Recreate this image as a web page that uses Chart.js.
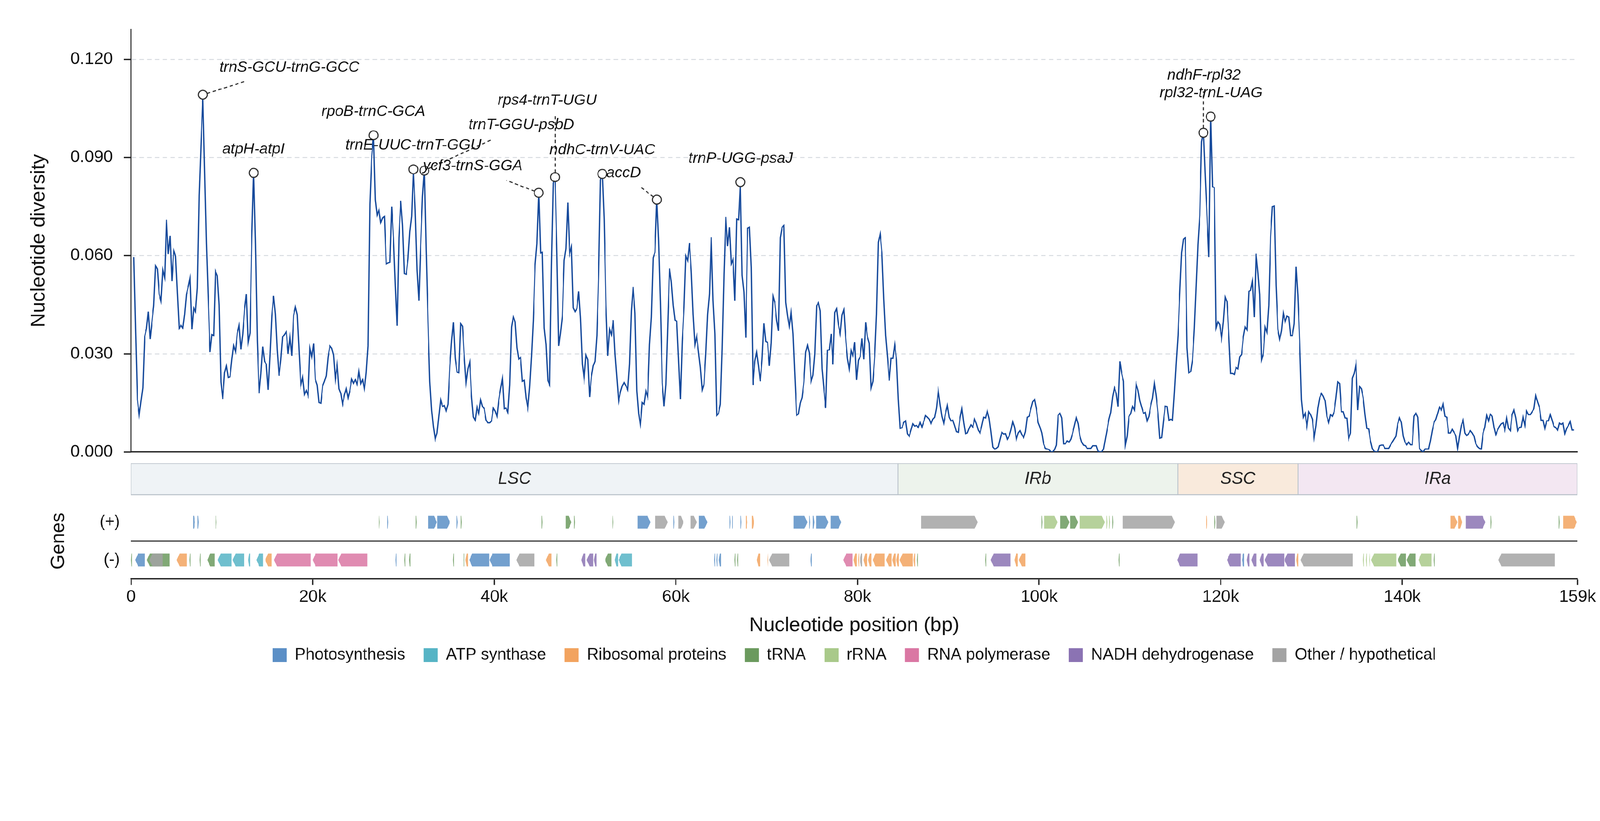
<!DOCTYPE html>
<html>
<head>
<meta charset="utf-8">
<script src="https://cdn.jsdelivr.net/npm/chart.js@4.4.1/dist/chart.umd.min.js"></script>
<style>
  html, body { margin: 0; padding: 0; background: #fff; overflow: hidden; }
  #wrap { position: relative; width: 4322px; height: 2102px; transform-origin: 0 0; }
  #wrap canvas { position: absolute; left: 0; top: 0; }
</style>
</head>
<body>
<div id="wrap">
  <canvas id="diversityChart" width="4322" height="2102"></canvas>
  <canvas id="regionChart" width="4322" height="2102"></canvas>
  <canvas id="geneChart" width="4322" height="2102"></canvas>
</div>
<script>
Chart.defaults.font.family = "'Liberation Sans', Arial, sans-serif";
Chart.defaults.color = '#111';

// fit the 4322x2102 figure into whatever viewport we get
const fit = Math.min(window.innerWidth / 4322, window.innerHeight / 2102);
if (fit > 0 && Math.abs(fit - 1) > 0.001) {
  document.getElementById('wrap').style.transform = 'scale(' + fit + ')';
}

// ---- data ----
const genomeLength = 159290;
const windowStep = 200;

// sliding-window Pi (three runs of consecutive windows)
const part1Start = 300;
const diversityPart1 = [
  0.0596,0.0370,0.0160,0.0114,0.0156,0.0196,0.0353,0.0377,0.0429,0.0345,
  0.0398,0.0448,0.0569,0.0559,0.0482,0.0461,0.0556,0.0533,0.0710,0.0605,
  0.0661,0.0522,0.0617,0.0599,0.0487,0.0378,0.0387,0.0379,0.0421,0.0482,
  0.0505,0.0531,0.0375,0.0440,0.0429,0.0501,0.0785,0.0940,0.1092,0.0860,
  0.0636,0.0468,0.0305,0.0359,0.0356,0.0552,0.0538,0.0449,0.0214,0.0162,
  0.0242,0.0263,0.0228,0.0230,0.0282,0.0325,0.0307,0.0363,0.0387,0.0314,
  0.0361,0.0435,0.0482,0.0336,0.0364,0.0655,0.0853,0.0636,0.0342,0.0179,
  0.0240,0.0322,0.0277,0.0268,0.0190,0.0296,0.0417,0.0477,0.0421,0.0310,
  0.0233,0.0282,0.0352,0.0359,0.0368,0.0300,0.0350,0.0294,0.0417,0.0443,
  0.0420,0.0310,0.0204,0.0228,0.0176,0.0188,0.0172,0.0317,0.0291,0.0331,
  0.0221,0.0205,0.0151,0.0149,0.0202,0.0216,0.0233,0.0291,0.0324,0.0317,
  0.0296,0.0223,0.0266,0.0193,0.0179,0.0146,0.0174,0.0193,0.0165,0.0188,
  0.0223,0.0210,0.0221,0.0205,0.0246,0.0209,0.0221,0.0191,0.0242,0.0324,
  0.0757,0.0902,0.0968,0.0771,0.0724,0.0740,0.0701,0.0715,0.0720,0.0575,
  0.0578,0.0580,0.0750,0.0655,0.0515,0.0386,0.0655,0.0768,0.0692,0.0545,
  0.0543,0.0589,0.0673,0.0720,0.0864,0.0738,0.0557,0.0463,0.0636,0.0780,
  0.0860,0.0617,0.0403,0.0216,0.0128,0.0076,0.0039,0.0058,0.0109,0.0159,
  0.0139,0.0142,0.0126,0.0146,0.0258,0.0338,0.0396,0.0286,0.0244,0.0242,
  0.0392,0.0384,0.0291,0.0212,0.0254,0.0275,0.0170,0.0107,0.0097,0.0137,
  0.0118,0.0159,0.0139,0.0132,0.0098,0.0089,0.0089,0.0095,0.0134,0.0125,
  0.0109,0.0160,0.0193,0.0224,0.0132,0.0134,0.0121,0.0205,0.0382,0.0414,
  0.0398,0.0319,0.0284,0.0289,0.0216,0.0219,0.0165,0.0134,0.0198,0.0291,
  0.0403,0.0571
];
const part2Start = 44700;
const diversityPart2 = [
  0.0636,0.0792,0.0608,0.0610,0.0379,0.0328,0.0218,0.0205,0.0571,0.0822,
  0.0840,0.0608,0.0324,0.0366,0.0415,0.0585,0.0622,0.0762,0.0606,0.0627,
  0.0440,0.0429,0.0438,0.0491,0.0407,0.0268,0.0224,0.0296,0.0282,0.0168,
  0.0230,0.0263,0.0277,0.0356,0.0543,0.0832,0.0850,0.0710,0.0449,0.0294,
  0.0375,0.0358,0.0403,0.0300,0.0228,0.0156,0.0184,0.0202,0.0212,0.0202,
  0.0190,0.0268,0.0431,0.0504,0.0424,0.0188,0.0118,0.0081,0.0151,0.0146,
  0.0186,0.0168,0.0328,0.0412,0.0594,0.0610,0.0771,0.0645,0.0449,0.0212,
  0.0140,0.0207,0.0384,0.0561,0.0519,0.0449,0.0403,0.0400,0.0282,0.0162,
  0.0338,0.0440,0.0599,0.0585,0.0639,0.0552,0.0421,0.0328,0.0354,0.0305,
  0.0258,0.0190,0.0207,0.0300,0.0421,0.0482,0.0656,0.0463,0.0361,0.0112,
  0.0118,0.0146,0.0319,0.0543,0.0718,0.0629,0.0687,0.0575,0.0589,0.0462,
  0.0712,0.0710,0.0825,0.0540,0.0489,0.0349,0.0684,0.0687,0.0563,0.0205,
  0.0277,0.0305,0.0263,0.0216,0.0284,0.0393,0.0338,0.0335,0.0263,0.0333,
  0.0476,0.0456,0.0403,0.0370,0.0655,0.0687,0.0692,0.0457,0.0415,0.0381,
  0.0426,0.0361,0.0235,0.0112,0.0116,0.0149,0.0167,0.0214,0.0305,0.0326,
  0.0302,0.0216,0.0235,0.0300,0.0447,0.0456,0.0431,0.0255,0.0193,0.0134,
  0.0311,0.0312,0.0361,0.0268,0.0426,0.0438,0.0389,0.0361,0.0419,0.0435,
  0.0349,0.0286,0.0254,0.0310,0.0293,0.0336,0.0220,0.0280,0.0291,0.0347,
  0.0283,0.0396,0.0352,0.0333,0.0196,0.0216,0.0291,0.0421,0.0641,0.0666,
  0.0608,0.0468,0.0356,0.0291,0.0218,0.0286,0.0286,0.0328,0.0282,0.0160,
  0.0072,0.0074,0.0090,0.0095,0.0056,0.0048,0.0067,0.0086,0.0079,0.0081,
  0.0075,0.0090,0.0076,0.0093,0.0111,0.0106,0.0100,0.0086,0.0100,0.0106,
  0.0134,0.0186,0.0146,0.0109,0.0088,0.0118,0.0142,0.0106,0.0095,0.0097,
  0.0081,0.0062,0.0060,0.0104,0.0132,0.0090,0.0056,0.0058,0.0072,0.0083,
  0.0076,0.0100,0.0086,0.0067,0.0058,0.0081,0.0106,0.0104,0.0125,0.0103,
  0.0062,0.0015,0.0009,0.0011,0.0016,0.0039,0.0060,0.0055,0.0056,0.0039,
  0.0048,0.0067,0.0092,0.0075,0.0039,0.0058,0.0065,0.0053,0.0044,0.0062,
  0.0106,0.0109,0.0132,0.0153,0.0160,0.0132,0.0090,0.0076,0.0058,0.0025,
  0.0011,0.0009,0.0007,0.0000,0.0000
];
const part3Start = 101700;
const diversityPart3 = [
  0.0007,0.0021,0.0112,0.0118,0.0104,0.0025,0.0025,0.0034,0.0030,0.0039,
  0.0058,0.0081,0.0104,0.0086,0.0048,0.0030,0.0021,0.0019,0.0011,0.0011,
  0.0011,0.0019,0.0019,0.0019,0.0002,0.0000,0.0000,0.0009,0.0039,0.0069,
  0.0100,0.0121,0.0168,0.0196,0.0179,0.0139,0.0277,0.0240,0.0216,0.0021,
  0.0048,0.0109,0.0117,0.0139,0.0128,0.0207,0.0188,0.0156,0.0137,0.0118,
  0.0121,0.0095,0.0109,0.0142,0.0165,0.0209,0.0170,0.0118,0.0042,0.0044,
  0.0095,0.0140,0.0139,0.0097,0.0100,0.0097,0.0179,0.0272,0.0356,0.0487,
  0.0608,0.0650,0.0655,0.0319,0.0242,0.0246,0.0282,0.0375,0.0505,0.0636,
  0.0724,0.0948,0.0976,0.0841,0.0720,0.0596,0.1025,0.0811,0.0808,0.0379,
  0.0398,0.0389,0.0347,0.0398,0.0473,0.0459,0.0356,0.0240,0.0240,0.0237,
  0.0258,0.0254,0.0291,0.0298,0.0352,0.0382,0.0373,0.0491,0.0494,0.0522,
  0.0412,0.0606,0.0552,0.0482,0.0282,0.0300,0.0382,0.0366,0.0449,0.0659,
  0.0750,0.0752,0.0510,0.0375,0.0345,0.0370,0.0424,0.0398,0.0415,0.0412,
  0.0356,0.0356,0.0392,0.0566,0.0477,0.0339,0.0160,0.0106,0.0118,0.0078,
  0.0123,0.0114,0.0100,0.0044,0.0081,0.0134,0.0165,0.0179,0.0170,0.0156,
  0.0109,0.0090,0.0114,0.0109,0.0123,0.0165,0.0214,0.0209,0.0123,0.0123,
  0.0104,0.0103,0.0041,0.0058,0.0226,0.0240,0.0268,0.0128,0.0200,0.0193,
  0.0165,0.0114,0.0072,0.0070,0.0034,0.0011,0.0002,0.0000,0.0000,0.0019,
  0.0021,0.0021,0.0011,0.0011,0.0011,0.0021,0.0030,0.0039,0.0048,0.0086,
  0.0104,0.0090,0.0048,0.0030,0.0022,0.0030,0.0022,0.0022,0.0109,0.0118,
  0.0106,0.0011,0.0004,0.0000,0.0009,0.0009,0.0009,0.0034,0.0065,0.0090,
  0.0100,0.0118,0.0137,0.0128,0.0146,0.0109,0.0106,0.0058,0.0058,0.0069,
  0.0060,0.0050,0.0011,0.0048,0.0081,0.0097,0.0058,0.0050,0.0056,0.0065,
  0.0058,0.0048,0.0025,0.0016,0.0011,0.0009,0.0058,0.0076,0.0112,0.0095,
  0.0116,0.0109,0.0076,0.0053,0.0067,0.0078,0.0086,0.0089,0.0067,0.0103,
  0.0072,0.0065,0.0114,0.0128,0.0104,0.0065,0.0075,0.0076,0.0106,0.0081,
  0.0125,0.0114,0.0114,0.0123,0.0132,0.0172,0.0153,0.0137,0.0097,0.0097,
  0.0072,0.0095,0.0095,0.0114,0.0097,0.0078,0.0075,0.0067,0.0088,0.0084,
  0.0088,0.0056,0.0072,0.0081,0.0093,0.0067,0.0067
];

const yTicks = [0, 0.03, 0.06, 0.09, 0.12];
const yMax = 0.1291;
const xTicks = [0, 20000, 40000, 60000, 80000, 100000, 120000, 140000, genomeLength];

// labelled peaks: window index into the joined series
const peakNames = ['trnS-GCU-trnG-GCC', 'atpH-atpI', 'rpoB-trnC-GCA', 'trnE-UUC-trnT-GGU',
  'trnT-GGU-psbD', 'ycf3-trnS-GGA', 'rps4-trnT-UGU', 'ndhC-trnV-UAC', 'accD',
  'trnP-UGG-psaJ', 'ndhF-rpl32', 'rpl32-trnL-UAG'];
const peakWindow = [38, 66, 132, 154, 160, 223, 232, 258, 288, 334, 589, 593];

// quadripartite regions
const regionNames = ['LSC', 'IRb', 'SSC', 'IRa'];
const regionStart = [0, 84470, 115270, 128510];
const regionEnd = [84470, 115270, 128510, genomeLength];

// genes: [start, end, strand]
const photosynthesisGenes = [
  [6829,7038,1],[7317,7456,1],[28223,28327,1],[32717,33690,1],[33728,35122,1],[35819,35993,1],
  [55784,57212,1],[59721,59825,1],[62543,63484,1],[65923,65993,1],[66201,66271,1],[67142,67212,1],
  [72961,74494,1],[74669,74773,1],[75087,75261,1],[75435,76794,1],[77036,78221,1],
  [453,1498,-1],[29129,29233,-1],[37247,39442,-1],[39477,41707,-1],[64216,64321,-1],
  [64459,64564,-1],[64738,64982,-1],[74843,74982,-1],[122343,122588,-1]
];
const atpGenes = [
  [9547,11080,-1],[11185,12439,-1],[12892,13101,-1],[13798,14530,-1],[53278,53630,-1],[53693,55156,-1]
];
const ribosomalGenes = [
  [5017,6132,-1],[14773,15470,-1],[36829,37108,-1],[45680,46306,-1],[68919,69268,-1],[70069,70174,-1],
  [79582,79930,-1],[80069,80174,-1],[80662,81045,-1],[81184,81532,-1],[81672,82996,-1],[83135,83762,-1],
  [83832,84215,-1],[84285,84564,-1],[84634,86097,-1],[86167,86341,-1],[97282,97665,-1],[97770,98502,-1],
  [128322,128532,-1],
  [67700,67874,1],[68362,68606,1],[118392,118497,1],[145315,146085,1],[146155,146575,1],[157727,159230,1]
];
const trnaGenes = [
  [9303,9408,1],[27282,27386,1],[31359,31463,1],[36306,36411,1],[45226,45330,1],[47874,48501,1],
  [48780,48885,1],[53031,53101,1],[100278,100348,1],[102334,103345,1],[103415,104286,1],[108077,108147,1],
  [119336,119406,1],[135000,135070,1],[149755,149825,1],[157238,157308,1],
  [0,105,-1],[1742,4251,-1],[6446,6550,-1],[7561,7631,-1],[8397,9199,-1],[30104,30174,-1],
  [30627,30766,-1],[35470,35540,-1],[36620,36689,-1],[46864,46934,-1],[52195,52892,-1],[66480,66550,-1],
  [66759,66829,-1],[86585,86655,-1],[94076,94146,-1],[108776,108846,-1],[139511,140420,-1],
  [140490,141469,-1],[143497,143567,-1]
];
const rrnaGenes = [
  [100557,102020,1],[104459,107247,1],[107421,107491,1],[107734,107804,1],
  [135699,135769,-1],[136014,136084,-1],[136363,136433,-1],[136573,139336,-1],[141783,143217,-1]
];
const rnaPolGenes = [
  [15749,19791,-1],[20000,22752,-1],[22822,26028,-1],[78432,79442,-1]
];
const ndhGenes = [
  [49582,50035,-1],[50174,50906,-1],[50976,51255,-1],[94668,96863,-1],[115210,117448,-1],
  [120699,122203,-1],[122867,123147,-1],[123392,123916,-1],[124301,124755,-1],[124860,126993,-1],
  [127028,128182,-1],[146995,149160,1]
];
const otherGenes = [
  [2021,3484,-1],[42439,44425,-1],[70278,72473,-1],[80278,80522,-1],[128811,134545,-1],[150594,156818,-1],
  [57735,59094,1],[60278,60836,1],[61637,62299,1],[87003,93240,1],[109231,114965,1],[119545,120455,1]
];

const geneClassNames = ['Photosynthesis', 'ATP synthase', 'Ribosomal proteins', 'tRNA', 'rRNA',
  'RNA polymerase', 'NADH dehydrogenase', 'Other / hypothetical'];
const geneClassGenes = [photosynthesisGenes, atpGenes, ribosomalGenes, trnaGenes, rrnaGenes,
  rnaPolGenes, ndhGenes, otherGenes];

// ---- layout / style (not data) ----
const geneColors = ['#5b8fc6', '#56b4c5', '#f2a35f', '#6b9a5e', '#a9c98a', '#da77a3', '#8b73b3', '#a3a3a3'];
const regionFill = ['#eff3f6', '#edf3ec', '#f9eadc', '#f3e7f2'];
// label centre and leader end, in data units
const labelAt = [[17440,0.1175],[13480,0.0925],[26690,0.1040],[31100,0.0937],[42990,0.1000],
  [37630,0.0874],[45835,0.1074],[51906,0.0923],[54244,0.0852],[67140,0.0897],[118157,0.1151],[118941,0.1097]];
const leaderTo = [[12500,0.1132], null, null, null, [39740,0.0955], [41350,0.0830], [46700,0.1027],
  null, [56130,0.0810], null, [118100,0.1102], null];
const plusRow = 0.25, minusRow = 0.75, separatorRow = 0.5;
const markerRadius = 12;

function windowPoints(values, start) {
  return values.map((v, i) => ({x: start + i * windowStep, y: v}));
}
const linePoints = [
  ...windowPoints(diversityPart1, part1Start),
  ...windowPoints(diversityPart2, part2Start),
  ...windowPoints(diversityPart3, part3Start)
];

const peakLabelPlugin = {
  id: 'peakLabels',
  afterDatasetsDraw(chart) {
    const {ctx, scales: {x, y}} = chart;
    ctx.save();
    ctx.strokeStyle = '#333';
    ctx.lineWidth = 3;
    ctx.setLineDash([9, 7]);
    peakWindow.forEach((w, k) => {
      if (!leaderTo[k]) return;
      const p = linePoints[w];
      const x0 = x.getPixelForValue(p.x), y0 = y.getPixelForValue(p.y);
      const x1 = x.getPixelForValue(leaderTo[k][0]), y1 = y.getPixelForValue(leaderTo[k][1]);
      const d = Math.hypot(x1 - x0, y1 - y0) || 1;
      ctx.beginPath();
      ctx.moveTo(x0 + (x1 - x0) * markerRadius / d, y0 + (y1 - y0) * markerRadius / d);
      ctx.lineTo(x1, y1);
      ctx.stroke();
    });
    ctx.setLineDash([]);
    ctx.font = "italic 41px 'Liberation Sans', Arial, sans-serif";
    ctx.fillStyle = '#111';
    ctx.textAlign = 'center';
    ctx.textBaseline = 'middle';
    peakNames.forEach((name, k) => {
      ctx.fillText(name, x.getPixelForValue(labelAt[k][0]), y.getPixelForValue(labelAt[k][1]));
    });
    ctx.restore();
  }
};

new Chart(document.getElementById('diversityChart'), {
  type: 'line',
  data: {
    datasets: [
      {
        data: peakWindow.map(w => linePoints[w]),
        showLine: false,
        pointRadius: markerRadius,
        pointBorderWidth: 3,
        pointBackgroundColor: '#fff',
        pointBorderColor: '#333',
        order: 0
      },
      {
        data: linePoints,
        borderColor: '#164a9c',
        borderWidth: 3.5,
        pointRadius: 0,
        tension: 0,
        fill: false,
        order: 1
      }
    ]
  },
  options: {
    responsive: false,
    devicePixelRatio: 1,
    animation: false,
    layout: {padding: {left: 70, right: 61, top: 80, bottom: 873}},
    plugins: {legend: {display: false}, tooltip: {enabled: false}},
    scales: {
      x: {
        type: 'linear', min: 0, max: genomeLength,
        grid: {display: false},
        ticks: {display: false},
        border: {display: true, color: '#222', width: 3.5}
      },
      y: {
        min: 0, max: yMax,
        afterFit: s => { s.width = 284; },
        afterBuildTicks: s => { s.ticks = yTicks.map(v => ({value: v})); },
        ticks: {callback: v => v.toFixed(3), font: {size: 46}, color: '#111', padding: 29},
        grid: {
          color: c => (c.tick && c.tick.value === 0 ? 'rgba(0,0,0,0)' : '#d7dbe0'),
          lineWidth: 2.5, tickColor: '#222', tickWidth: 3.5, tickLength: 20
        },
        border: {display: true, color: '#222', width: 3.5, dash: [12, 9]},
        title: {display: true, text: 'Nucleotide diversity', font: {size: 54}, color: '#111',
          padding: {top: 3, bottom: 0}}
      }
    }
  },
  plugins: [peakLabelPlugin]
});

const regionLabelPlugin = {
  id: 'regionLabels',
  afterDatasetsDraw(chart) {
    const {ctx} = chart;
    const meta = chart.getDatasetMeta(0);
    ctx.save();
    ctx.font = "italic 46px 'Liberation Sans', Arial, sans-serif";
    ctx.fillStyle = '#222';
    ctx.textAlign = 'center';
    ctx.textBaseline = 'middle';
    meta.data.forEach((bar, i) => {
      const {x, base, y} = bar.getProps(['x', 'base', 'y'], true);
      ctx.fillText(regionNames[i], (x + base) / 2, y);
    });
    ctx.restore();
  }
};

new Chart(document.getElementById('regionChart'), {
  type: 'bar',
  data: {
    labels: ['regions'],
    datasets: [{
      data: regionNames.map((n, i) => ({x: [regionStart[i], regionEnd[i]], y: 'regions'})),
      backgroundColor: regionFill,
      borderColor: '#bcc4cc',
      borderWidth: {top: 3, bottom: 3, left: 1.5, right: 1.5},
      borderSkipped: false,
      barPercentage: 1,
      categoryPercentage: 1
    }]
  },
  options: {
    indexAxis: 'y',
    responsive: false,
    devicePixelRatio: 1,
    animation: false,
    layout: {padding: {left: 354, right: 61, top: 1251, bottom: 764}},
    plugins: {legend: {display: false}, tooltip: {enabled: false}},
    scales: {
      x: {type: 'linear', min: 0, max: genomeLength, display: false},
      y: {display: false}
    }
  },
  plugins: [regionLabelPlugin]
});

const geneArrowPlugin = {
  id: 'geneArrows',
  beforeDatasetDraw() { return false; },
  afterDatasetsDraw(chart) {
    const {ctx, chartArea, scales: {y}} = chart;
    ctx.save();
    const ySep = y.getPixelForValue(separatorRow);
    ctx.strokeStyle = '#333';
    ctx.lineWidth = 4;
    ctx.beginPath();
    ctx.moveTo(chartArea.left, ySep);
    ctx.lineTo(chartArea.right, ySep);
    ctx.stroke();
    ctx.globalAlpha = 0.85;
    chart.data.datasets.forEach((ds, i) => {
      const meta = chart.getDatasetMeta(i);
      ctx.fillStyle = ds.backgroundColor;
      meta.data.forEach((bar, j) => {
        const {x, base, y: cy, height} = bar.getProps(['x', 'base', 'y', 'height'], true);
        let left = Math.min(x, base), right = Math.max(x, base);
        if (right - left < 2.5) { const m = (left + right) / 2; left = m - 1.25; right = m + 1.25; }
        const w = right - left;
        const tip = Math.min(8, w * 0.5);
        const top = cy - height / 2, bottom = cy + height / 2;
        ctx.beginPath();
        if (ds.data[j].strand > 0) {
          ctx.moveTo(left, top); ctx.lineTo(right - tip, top); ctx.lineTo(right, cy);
          ctx.lineTo(right - tip, bottom); ctx.lineTo(left, bottom);
        } else {
          ctx.moveTo(right, top); ctx.lineTo(left + tip, top); ctx.lineTo(left, cy);
          ctx.lineTo(left + tip, bottom); ctx.lineTo(right, bottom);
        }
        ctx.closePath();
        ctx.fill();
      });
    });
    ctx.restore();
  }
};

new Chart(document.getElementById('geneChart'), {
  type: 'bar',
  data: {
    datasets: geneClassNames.map((name, k) => ({
      label: name,
      data: geneClassGenes[k].map(([s, e, strand]) => ({x: [s, e], y: strand > 0 ? plusRow : minusRow, strand})),
      backgroundColor: geneColors[k],
      borderWidth: 0,
      barThickness: 35,
      grouped: false
    }))
  },
  options: {
    indexAxis: 'y',
    responsive: false,
    devicePixelRatio: 1,
    animation: false,
    layout: {padding: {left: 70, right: 61, top: 1360, bottom: 300}},
    plugins: {
      tooltip: {enabled: false},
      legend: {
        display: true, position: 'bottom', fullSize: false,
        labels: {boxWidth: 38, boxHeight: 37, padding: 50, font: {size: 44}, color: '#111'}
      }
    },
    scales: {
      x: {
        type: 'linear', min: 0, max: genomeLength,
        afterBuildTicks: s => { s.ticks = xTicks.map(v => ({value: v})); },
        ticks: {
          callback: v => (v === 0 ? '0' : Math.round(v / 1000) + 'k'),
          font: {size: 46}, color: '#111', padding: 5, maxRotation: 0, autoSkip: false
        },
        grid: {display: true, drawOnChartArea: false, drawTicks: true, tickLength: 17,
          tickColor: '#222', tickWidth: 3.5},
        border: {display: true, color: '#222', width: 3.5},
        title: {display: true, text: 'Nucleotide position (bp)', font: {size: 54, lineHeight: 0.3},
          color: '#111', padding: {top: 36, bottom: 0}}
      },
      y: {
        type: 'linear', min: 0, max: 1, reverse: true, offset: false,
        afterFit: s => { s.width = 284; },
        afterBuildTicks: s => { s.ticks = [{value: plusRow}, {value: minusRow}]; },
        ticks: {callback: v => (v === plusRow ? '(+)' : '(-)'), font: {size: 44}, color: '#111', padding: 30},
        grid: {display: false, drawTicks: false},
        border: {display: false},
        title: {display: true, text: 'Genes', font: {size: 52}, color: '#111', padding: {top: 57, bottom: 0}}
      }
    }
  },
  plugins: [geneArrowPlugin]
});
</script>
</body>
</html>
